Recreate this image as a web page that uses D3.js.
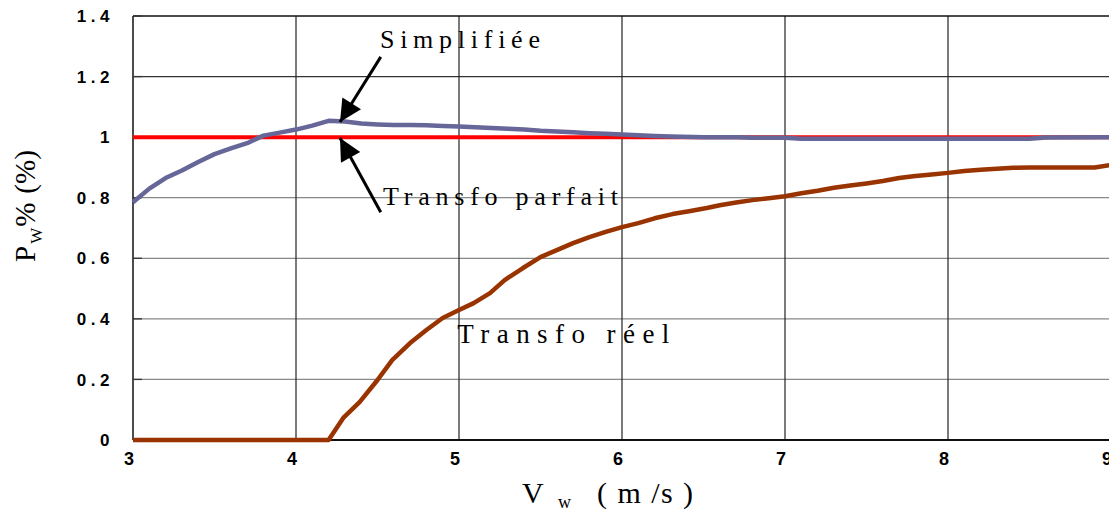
<!DOCTYPE html>
<html>
<head>
<meta charset="utf-8">
<script src="https://cdn.jsdelivr.net/npm/d3@7"></script>
<style>
  body { margin: 0; background: #fff; }
  svg { display: block; }
  .serif { font-family: "Liberation Serif", "Times New Roman", serif; }
  .tick { font-family: "Liberation Sans", Arial, sans-serif; font-weight: bold; }
</style>
</head>
<body>
<svg id="chart"></svg>
<script>
// Chart dimensions
const width = 1109;
const height = 512;

// Data
const xTicks = [3, 4, 5, 6, 7, 8, 9];
const yTicks = [0, 0.2, 0.4, 0.6, 0.8, 1, 1.2, 1.4];
const yTickLabels = ["0", "0.2", "0.4", "0.6", "0.8", "1", "1.2", "1.4"];

const vSimp = [3.0, 3.1, 3.2, 3.3, 3.4, 3.5, 3.6, 3.7, 3.8, 3.9, 4.0, 4.1, 4.2, 4.3, 4.4, 4.5, 4.6, 4.7, 4.8, 4.9,
  5.0, 5.1, 5.2, 5.3, 5.4, 5.5, 5.6, 5.7, 5.8, 5.9, 6.0, 6.1, 6.2, 6.3, 6.5, 6.7, 6.8, 7.0, 7.1, 7.5, 8.0, 8.5, 8.6, 9.0];
const pSimp = [0.785, 0.83, 0.865, 0.89, 0.918, 0.944, 0.963, 0.98, 1.005, 1.015, 1.025, 1.038, 1.054, 1.052, 1.045, 1.042, 1.04, 1.04, 1.039, 1.037,
  1.035, 1.033, 1.03, 1.028, 1.025, 1.021, 1.019, 1.016, 1.013, 1.011, 1.009, 1.006, 1.004, 1.002, 1.0, 1.0, 0.998, 0.998, 0.995, 0.995, 0.995, 0.995, 0.999, 1.0];

const vParf = [3, 9];
const pParf = [1, 1];

const vReel = [3.0, 4.2, 4.29, 4.39, 4.5, 4.59, 4.7, 4.8, 4.9, 5.0, 5.09, 5.19, 5.28, 5.39, 5.5, 5.6, 5.7, 5.8, 5.9,
  6.0, 6.1, 6.2, 6.31, 6.42, 6.52, 6.6, 6.7, 6.8, 6.9, 7.0, 7.1, 7.2, 7.3, 7.4, 7.5, 7.6, 7.7, 7.8, 7.9,
  8.0, 8.1, 8.2, 8.3, 8.4, 8.5, 8.9, 9.0];
const pReel = [0, 0, 0.073, 0.125, 0.198, 0.264, 0.32, 0.363, 0.403, 0.429, 0.452, 0.485, 0.528, 0.567, 0.604, 0.627, 0.65, 0.67, 0.687,
  0.703, 0.716, 0.732, 0.746, 0.756, 0.766, 0.775, 0.784, 0.792, 0.798, 0.805, 0.815, 0.823, 0.833, 0.84, 0.847, 0.855, 0.865, 0.872, 0.877,
  0.882, 0.888, 0.892, 0.896, 0.899, 0.9, 0.9, 0.908];

// Annotations (data units)
const labels = [
  { text: "Simplifiée", v: 4.515, p: 1.294, len: 160, size: 26 },
  { text: "Transfo parfait", v: 4.534, p: 0.776, len: 235, size: 26 },
  { text: "Transfo réel", v: 4.99, p: 0.32, len: 212, size: 27 }
];
const arrows = [
  { v0: 4.52, p0: 1.265, v1: 4.27, p1: 1.05 },
  { v0: 4.52, p0: 0.752, v1: 4.27, p1: 0.997 }
];

// Scales
const x = d3.scaleLinear().domain([3, 9]).range([133, 1111]);
const y = d3.scaleLinear().domain([0, 1.4]).range([440, 16]);

const svg = d3.select("#chart")
  .attr("width", width)
  .attr("height", height);

// Grid
svg.append("g")
  .selectAll("line")
  .data(yTicks.filter(d => d > 0 && d < 1.4))
  .enter()
  .append("line")
  .attr("x1", x(3)).attr("x2", x(9))
  .attr("y1", d => y(d)).attr("y2", d => y(d))
  .attr("stroke", d => d > 1 ? "#333" : "#888")
  .attr("stroke-width", 1.3);

svg.append("g")
  .selectAll("line")
  .data(xTicks.filter(d => d > 3 && d < 9))
  .enter()
  .append("line")
  .attr("x1", d => x(d)).attr("x2", d => x(d))
  .attr("y1", y(0)).attr("y2", y(1.4))
  .attr("stroke", "#222")
  .attr("stroke-width", 1.2);

// Frame
svg.append("line")
  .attr("x1", x(3)).attr("x2", x(9)).attr("y1", y(1.4)).attr("y2", y(1.4))
  .attr("stroke", "#111").attr("stroke-width", 1.5);
svg.append("line")
  .attr("x1", x(3)).attr("x2", x(3)).attr("y1", y(0)).attr("y2", y(1.4))
  .attr("stroke", "#111").attr("stroke-width", 1.5);
svg.append("line")
  .attr("x1", x(3)).attr("x2", x(9)).attr("y1", y(0)).attr("y2", y(0))
  .attr("stroke", "#111").attr("stroke-width", 2);

// Small inside ticks on y axis
svg.append("g")
  .selectAll("line")
  .data(yTicks)
  .enter()
  .append("line")
  .attr("x1", x(3)).attr("x2", x(3) + 9)
  .attr("y1", d => y(d)).attr("y2", d => y(d))
  .attr("stroke", "#333").attr("stroke-width", 1.3);

// Tick labels
svg.append("g")
  .selectAll("text")
  .data(yTicks)
  .enter()
  .append("text")
  .attr("class", "tick")
  .attr("x", 114)
  .attr("y", d => y(d))
  .attr("dy", "0.36em")
  .attr("text-anchor", "end")
  .style("font-size", "17px")
  .style("letter-spacing", "4.5px")
  .text((d, i) => yTickLabels[i]);

svg.append("g")
  .selectAll("text")
  .data(xTicks)
  .enter()
  .append("text")
  .attr("class", "tick")
  .attr("x", d => x(d) - 4)
  .attr("y", 465)
  .attr("text-anchor", "middle")
  .style("font-size", "18px")
  .text(d => d);

// Lines
const line = d3.line()
  .x(d => x(d[0]))
  .y(d => y(d[1]));

svg.append("path")
  .datum(d3.zip(vParf, pParf))
  .attr("d", line)
  .attr("fill", "none")
  .attr("stroke", "#ff0000")
  .attr("stroke-width", 4);

svg.append("path")
  .datum(d3.zip(vSimp, pSimp))
  .attr("d", line)
  .attr("fill", "none")
  .attr("stroke", "#666699")
  .attr("stroke-width", 4.5)
  .attr("stroke-linejoin", "round");

svg.append("path")
  .datum(d3.zip(vReel, pReel))
  .attr("d", line)
  .attr("fill", "none")
  .attr("stroke", "#993300")
  .attr("stroke-width", 4.5)
  .attr("stroke-linejoin", "round");

// Arrows
const defs = svg.append("defs");
defs.append("marker")
  .attr("id", "head")
  .attr("viewBox", "0 0 10 10")
  .attr("refX", 10).attr("refY", 5)
  .attr("markerUnits", "userSpaceOnUse")
  .attr("markerWidth", 26).attr("markerHeight", 22)
  .attr("orient", "auto")
  .append("path")
  .attr("d", "M0,0 L10,5 L0,10 Z")
  .attr("fill", "#000");

svg.append("g")
  .selectAll("line")
  .data(arrows)
  .enter()
  .append("line")
  .attr("x1", d => x(d.v0)).attr("y1", d => y(d.p0))
  .attr("x2", d => x(d.v1)).attr("y2", d => y(d.p1))
  .attr("stroke", "#000")
  .attr("stroke-width", 3)
  .attr("marker-end", "url(#head)");

// Annotation labels
svg.append("g")
  .selectAll("text")
  .data(labels)
  .enter()
  .append("text")
  .attr("class", "serif")
  .attr("x", d => x(d.v))
  .attr("y", d => y(d.p))
  .attr("textLength", d => d.len)
  .attr("lengthAdjust", "spacing")
  .style("font-size", d => d.size + "px")
  .style("fill", "#000")
  .text(d => d.text);

// X axis title
const xt = svg.append("g").attr("class", "serif");
xt.append("text").attr("x", 522).attr("y", 503).style("font-size", "30px").text("V");
xt.append("text").attr("x", 558).attr("y", 508).style("font-size", "18px").text("w");
xt.append("text").attr("x", 597).attr("y", 503).attr("textLength", 96).attr("lengthAdjust", "spacing")
  .style("font-size", "30px").text("( m /s )");

// Y axis title
const yt = svg.append("text")
  .attr("class", "serif")
  .attr("transform", "translate(35,262) rotate(-90)")
  .style("font-size", "29px");
yt.append("tspan").text("P");
yt.append("tspan").attr("dy", 7).attr("dx", 2).style("font-size", "17px").text("W");
yt.append("tspan").attr("dy", -7).attr("dx", 1).text("%");
yt.append("tspan").attr("dx", 9).text("(%)");
</script>
</body>
</html>
